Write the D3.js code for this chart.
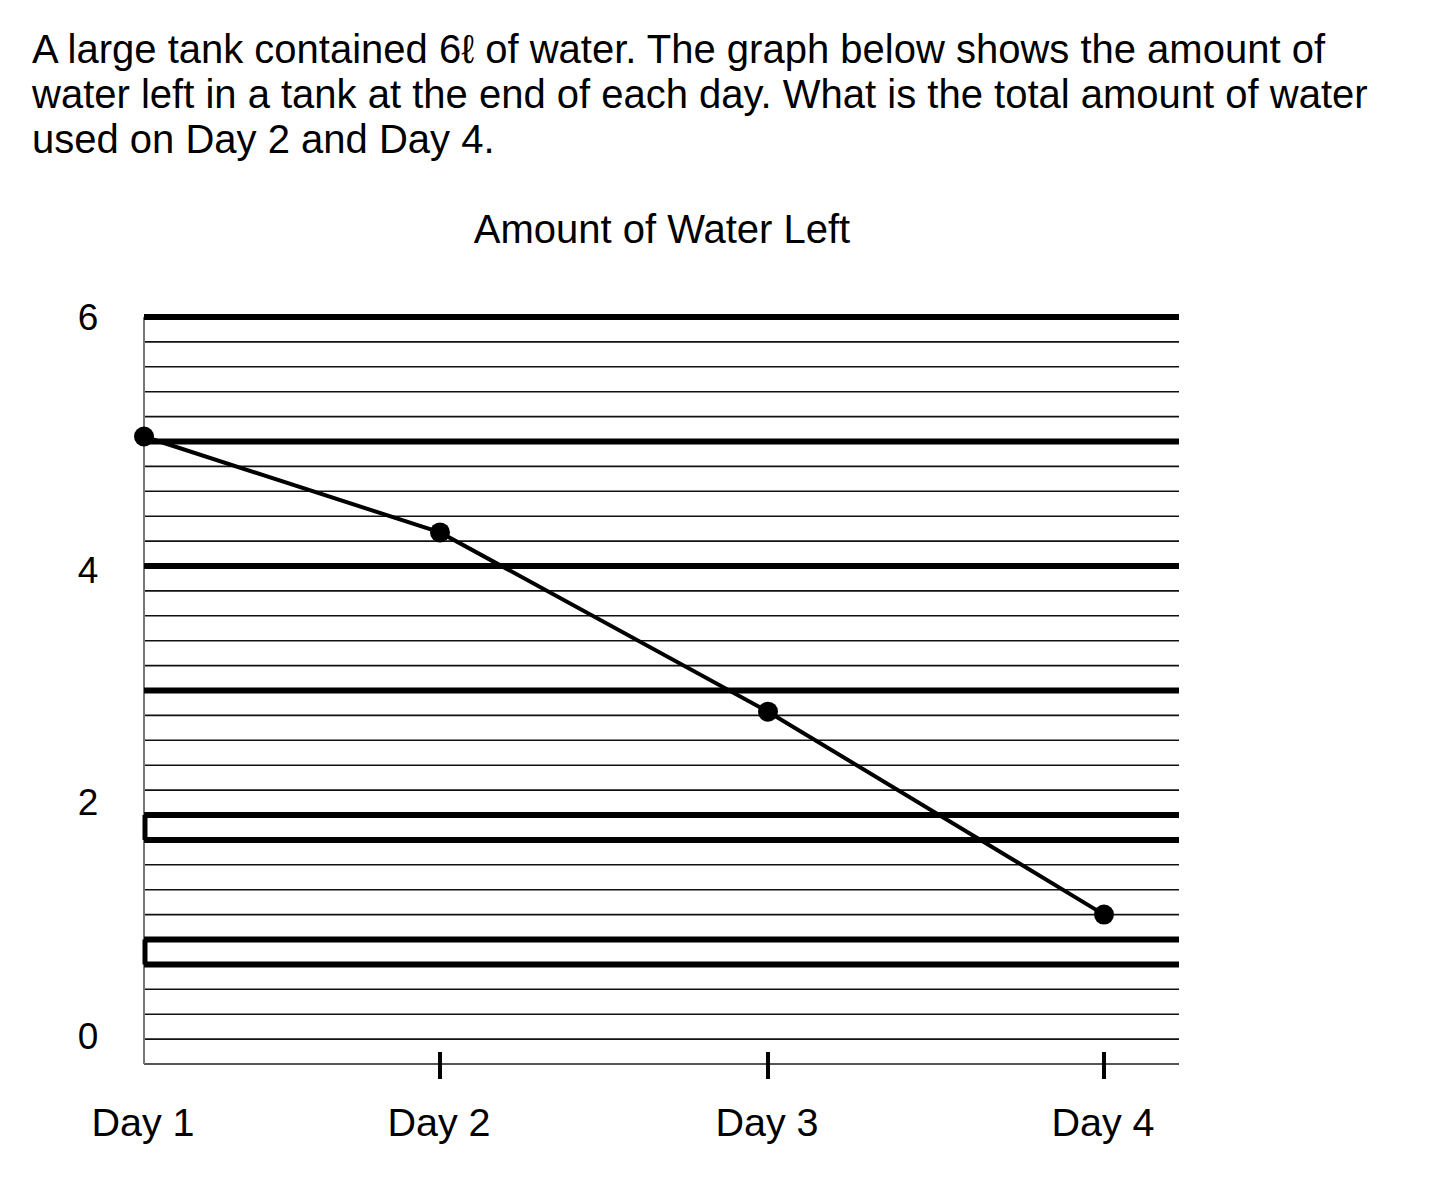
<!DOCTYPE html>
<html>
<head>
<meta charset="utf-8">
<script src="https://cdn.jsdelivr.net/npm/d3@7/dist/d3.min.js"></script>
<style>
  html, body { margin: 0; padding: 0; background: #fff; }
  svg { display: block; font-family: "Liberation Sans", Arial, Helvetica, sans-serif; }
</style>
</head>
<body>
<svg id="chart" width="1440" height="1182"></svg>
<script>
// ---- data ----
const questionLines = [
  "A large tank contained 6\u2113 of water. The graph below shows the amount of",
  "water left in a tank at the end of each day. What is the total amount of water",
  "used on Day 2 and Day 4."
];
const chartTitle = "Amount of Water Left";
const days = ["Day 1", "Day 2", "Day 3", "Day 4"];
const dayPos = [1, 1.925, 2.95, 4];              // x position of each day on the axis
const waterLeft = [5.04, 4.27, 2.83, 1.20];      // litres left at end of each day
const tickedDays = ["Day 2", "Day 3", "Day 4"];
const yTickLabels = ["6", "4", "2", "0"];
const yTickLabelPos = [6, 3.968, 2.11, 0.225];
const gridStep = 0.2;
const thickLines = [6, 5, 4, 3, 2, 1.8, 1, 0.8];
const bracketPairs = [[2, 1.8], [1, 0.8]];

// ---- layout ----
(function () {
const svg = d3.select("#chart");
const plotLeft = 144, plotRight = 1179, plotTop = 317, plotBottom = 1064;

const y = d3.scaleLinear().domain([0, 6]).range([plotBottom, plotTop]);
const x = d3.scaleLinear().domain([1, 4]).range([plotLeft, 1104]);

// question text
svg.append("g").selectAll("text").data(questionLines).join("text")
  .attr("x", 32)
  .attr("y", (d, i) => 63 + i * 45)
  .attr("font-size", 40)
  .attr("fill", "#000")
  .text(d => d);

// chart title
svg.append("text")
  .attr("x", 662).attr("y", 243)
  .attr("text-anchor", "middle")
  .attr("font-size", 40)
  .text(chartTitle);

// thin grid lines
const gridVals = d3.range(0, 6 + gridStep / 2, gridStep);
svg.append("g").selectAll("line").data(gridVals).join("line")
  .attr("x1", plotLeft).attr("x2", plotRight)
  .attr("y1", d => y(d)).attr("y2", d => y(d))
  .attr("stroke", "#111").attr("stroke-width", 1.6);

// bottom axis line
svg.append("line")
  .attr("x1", plotLeft).attr("x2", plotRight)
  .attr("y1", y(0)).attr("y2", y(0))
  .attr("stroke", "#555").attr("stroke-width", 2);

// left axis line
svg.append("line")
  .attr("x1", plotLeft).attr("x2", plotLeft)
  .attr("y1", y(6)).attr("y2", y(0))
  .attr("stroke", "#777").attr("stroke-width", 2);

// thick lines
svg.append("g").selectAll("line").data(thickLines).join("line")
  .attr("x1", plotLeft).attr("x2", plotRight)
  .attr("y1", d => y(d)).attr("y2", d => y(d))
  .attr("stroke", "#000").attr("stroke-width", 6);

// brackets on left edge
svg.append("g").selectAll("line").data(bracketPairs).join("line")
  .attr("x1", plotLeft + 1).attr("x2", plotLeft + 1)
  .attr("y1", d => y(d[0])).attr("y2", d => y(d[1]))
  .attr("stroke", "#000").attr("stroke-width", 5);

// y tick labels
svg.append("g").selectAll("text").data(yTickLabels).join("text")
  .attr("x", 88)
  .attr("y", (d, i) => y(yTickLabelPos[i]))
  .attr("dy", "0.36em")
  .attr("text-anchor", "middle")
  .attr("font-size", 37)
  .text(d => d);

// x ticks
svg.append("g").selectAll("line").data(tickedDays).join("line")
  .attr("x1", d => x(dayPos[days.indexOf(d)]))
  .attr("x2", d => x(dayPos[days.indexOf(d)]))
  .attr("y1", plotBottom - 12).attr("y2", plotBottom + 15)
  .attr("stroke", "#000").attr("stroke-width", 4);

// x labels
svg.append("g").selectAll("text").data(days).join("text")
  .attr("x", (d, i) => x(dayPos[i]) - 1)
  .attr("y", 1136)
  .attr("text-anchor", "middle")
  .attr("font-size", 39.5)
  .text(d => d);

// data line
const pts = days.map((d, i) => [x(dayPos[i]), y(waterLeft[i])]);
svg.append("path")
  .attr("d", d3.line()(pts))
  .attr("fill", "none")
  .attr("stroke", "#000")
  .attr("stroke-width", 4);

svg.append("g").selectAll("circle").data(pts).join("circle")
  .attr("cx", d => d[0]).attr("cy", d => d[1])
  .attr("r", 10)
  .attr("fill", "#000");
})();
</script>
</body>
</html>
